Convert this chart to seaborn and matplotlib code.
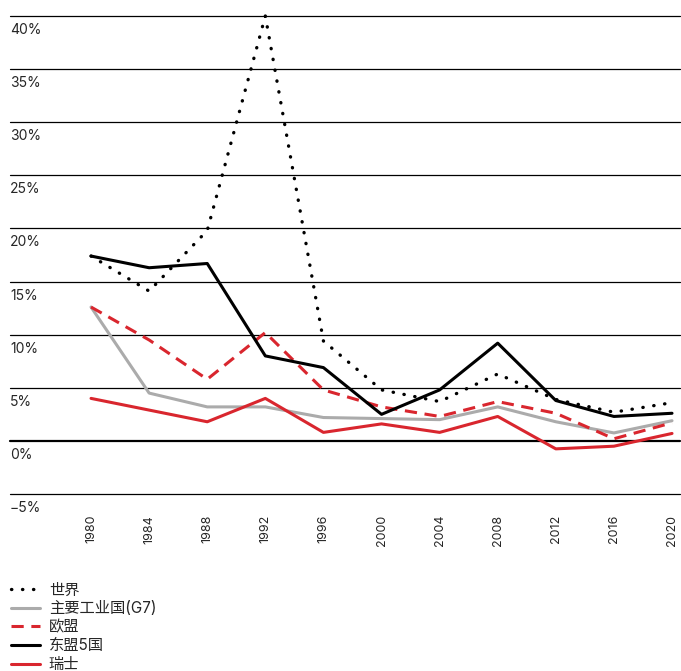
import pandas as pd
import matplotlib
matplotlib.use('Agg')
import matplotlib.pyplot as plt
import matplotlib.transforms as mtransforms
import seaborn as sns

sns.set_style('white')
plt.rcParams['font.family'] = ['Inter', 'Noto Sans CJK SC', 'DejaVu Sans']
plt.rcParams['axes.unicode_minus'] = True

# 数据（单位：%）
years = [1980, 1984, 1988, 1992, 1996, 2000, 2004, 2008, 2012, 2016, 2020]
world = [17.4, 14.1, 19.8, 40.0, 9.4, 4.8, 3.7, 6.3, 3.9, 2.7, 3.6]
g7 = [12.6, 4.5, 3.2, 3.2, 2.2, 2.1, 2.0, 3.2, 1.8, 0.75, 1.9]
eu = [12.6, 9.5, 5.8, 10.2, 4.8, 3.2, 2.3, 3.7, 2.6, 0.2, 1.7]
asean5 = [17.4, 16.3, 16.7, 8.0, 6.9, 2.5, 4.8, 9.2, 3.8, 2.3, 2.6]
swiss = [4.0, 2.9, 1.8, 4.0, 0.8, 1.6, 0.8, 2.3, -0.75, -0.5, 0.7]

series_names = ['世界', '主要工业国(G7)', '欧盟', '东盟5国', '瑞士']
series_values = [world, g7, eu, asean5, swiss]
y_ticks = [-5, 0, 5, 10, 15, 20, 25, 30, 35, 40]

red = '#d9262e'
styles = {
    '世界': dict(color='black', dashes=(0.1, 3.2), dash_capstyle='round'),
    '主要工业国(G7)': dict(color='#ababab'),
    '欧盟': dict(color=red, dashes=(4, 2.5)),
    '东盟5国': dict(color='black'),
    '瑞士': dict(color=red),
}

df = pd.DataFrame({
    '年份': years * len(series_names),
    '值': sum(series_values, []),
    '系列': [n for n in series_names for _ in years],
})

fig = plt.figure(figsize=(6.81, 6.71), dpi=100)
ax = fig.add_axes([10 / 681, 1 - 494 / 671, 670 / 681, 478 / 671])

# 网格线
for v in y_ticks:
    ax.axhline(v, color='black', lw=1.6 if v == 0 else 0.9, zorder=1, clip_on=False)

# 绘制每条折线
for name in series_names:
    sub = df[df['系列'] == name]
    st = styles[name]
    sns.lineplot(x='年份', y='值', data=sub, ax=ax, color=st['color'], lw=2.2,
                 label=name, zorder=3, legend=False)
    line = ax.lines[-1]
    if 'dashes' in st:
        line.set_dashes(st['dashes'])
    if 'dash_capstyle' in st:
        line.set_dash_capstyle(st['dash_capstyle'])
        line.set_linewidth(2.4)
    line.set_clip_on(False)

ax.set_xlim(1974.42, 2020.55)
ax.set_ylim(-5, 40)
ax.set_xticks(years)
ax.set_xticklabels([str(y) for y in years], rotation=90, fontsize=9)
ax.set_yticks([])
ax.tick_params(axis='x', length=0, pad=15)
ax.set_xlabel('')
ax.set_ylabel('')
for s in ax.spines.values():
    s.set_visible(False)

# y 轴标签放在网格线下方
trans = mtransforms.blended_transform_factory(ax.transAxes, ax.transData)
for v in y_ticks:
    lab = ('−%d%%' % abs(v)) if v < 0 else ('%d%%' % v)
    ax.annotate(lab, xy=(0, v), xycoords=trans, xytext=(0, -5),
                textcoords='offset points', va='top', ha='left', fontsize=10,
                annotation_clip=False)

handles = ax.lines[-len(series_names):]
fig.legend(handles, series_names, loc='upper left', bbox_to_anchor=(0.0, 0.148),
           frameon=False, fontsize=11, handlelength=1.9, labelspacing=0.24,
           handletextpad=0.6, borderaxespad=0.3)

fig.savefig('out.png', dpi=100)
